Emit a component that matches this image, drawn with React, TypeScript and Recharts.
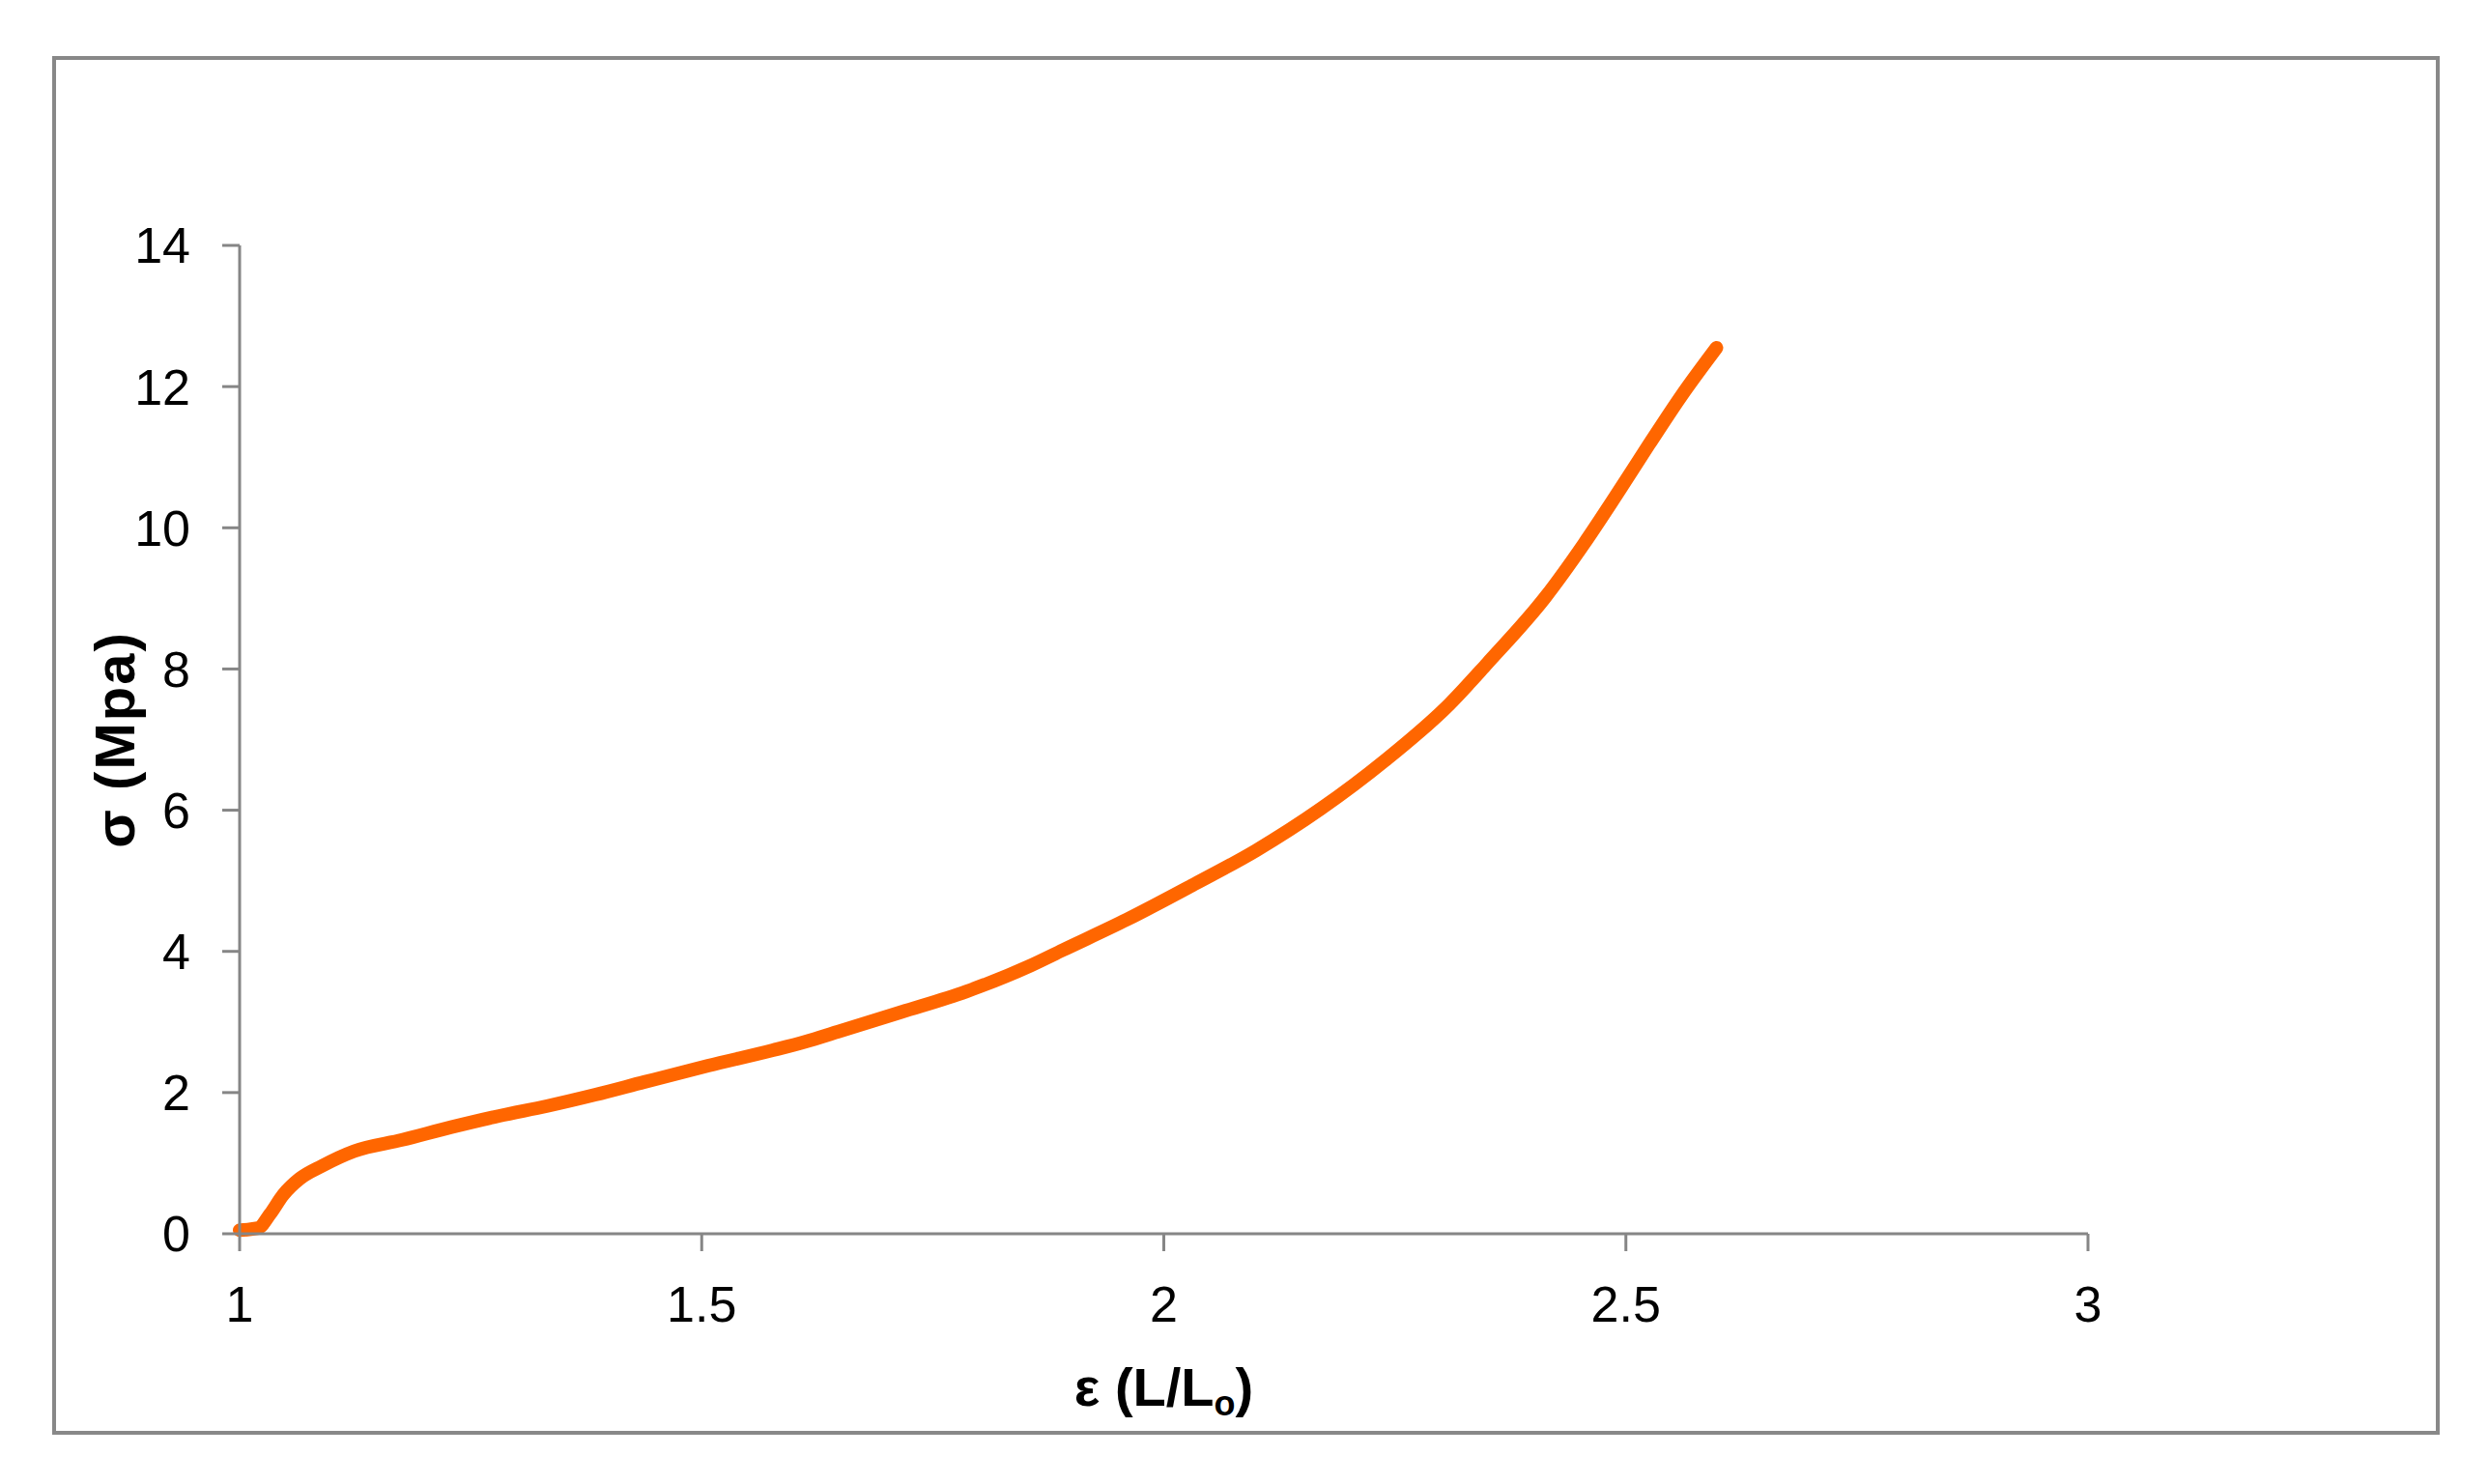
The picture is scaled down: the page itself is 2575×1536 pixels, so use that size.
import React from "react";
import { LineChart, Line, XAxis, YAxis, Label } from "recharts";

// strain (L/Lo) and stress (MPa)
const strain = [
  1.0, 1.02, 1.033, 1.047, 1.065, 1.089, 1.124, 1.176, 1.229, 1.281, 1.333,
  1.385, 1.438, 1.507, 1.577, 1.612, 1.647, 1.716, 1.786, 1.856, 1.891, 1.96,
  2.03, 2.1, 2.17, 2.239, 2.309, 2.35, 2.413, 2.455, 2.49, 2.525, 2.56, 2.598
];
const stress = [
  0.05, 0.08, 0.28, 0.55, 0.78, 0.96, 1.17, 1.33, 1.51, 1.67, 1.81, 1.97,
  2.15, 2.38, 2.6, 2.72, 2.86, 3.14, 3.43, 3.8, 4.02, 4.45, 4.93, 5.43, 6.02,
  6.7, 7.5, 8.08, 9.02, 9.78, 10.47, 11.18, 11.87, 12.55
];
const xTicks = [1, 1.5, 2, 2.5, 3];
const yTicks = [0, 2, 4, 6, 8, 10, 12, 14];

const data = strain.map((x, i) => ({ x, y: stress[i] }));

const FONT = "'Liberation Sans', Arial, sans-serif";
const AXIS_GREY = "#868686";

const XTitle = (props: any) => {
  const { x, y, width } = props.viewBox;
  return (
    <text
      x={x + width / 2}
      y={y + 178}
      textAnchor="middle"
      fontFamily={FONT}
      fontWeight="bold"
      fontSize={56}
      fill="#000"
    >
      ε (L/L
      <tspan fontSize={36} dy={10}>o</tspan>
      <tspan dy={-10}>)</tspan>
    </text>
  );
};

const YTitle = (props: any) => {
  const { y, height } = props.viewBox;
  const cx = 118;
  const cy = y + height / 2;
  return (
    <text
      x={cx}
      y={cy}
      transform={`rotate(-90, ${cx}, ${cy})`}
      textAnchor="middle"
      dominantBaseline="central"
      fontFamily={FONT}
      fontWeight="bold"
      fontSize={58}
      letterSpacing={2}
      fill="#000"
    >
      σ (Mpa)
    </text>
  );
};

export default function App() {
  return (
    <div style={{ position: "absolute", left: 0, top: 0, width: 2575, height: 1536, background: "#fff" }}>
      <div
        style={{
          position: "absolute",
          left: 54,
          top: 58,
          width: 2471,
          height: 1427,
          boxSizing: "border-box",
          border: "4px solid #888888",
        }}
      />
      <LineChart
        width={2575}
        height={1536}
        data={data}
        margin={{ top: 254, right: 414, bottom: 0, left: 0 }}
        style={{ position: "absolute", left: 0, top: 0 }}
      >
        <XAxis
          dataKey="x"
          type="number"
          domain={[1, 3]}
          ticks={xTicks}
          height={259}
          tickSize={18}
          tickMargin={36}
          axisLine={{ stroke: AXIS_GREY, strokeWidth: 3 }}
          tickLine={{ stroke: AXIS_GREY, strokeWidth: 3 }}
          tick={{ fill: "#000", fontSize: 52, fontFamily: FONT }}
          interval={0}
        >
          <Label content={XTitle} />
        </XAxis>
        <YAxis
          type="number"
          domain={[0, 14]}
          ticks={yTicks}
          width={248}
          tickSize={18}
          tickMargin={33}
          axisLine={{ stroke: AXIS_GREY, strokeWidth: 3 }}
          tickLine={{ stroke: AXIS_GREY, strokeWidth: 3 }}
          tick={{ fill: "#000", fontSize: 52, fontFamily: FONT }}
          interval={0}
        >
          <Label content={YTitle} />
        </YAxis>
        <Line
          type="monotone"
          dataKey="y"
          stroke="#FF6600"
          strokeWidth={14}
          strokeLinecap="round"
          strokeLinejoin="round"
          dot={false}
          isAnimationActive={false}
        />
      </LineChart>
    </div>
  );
}
